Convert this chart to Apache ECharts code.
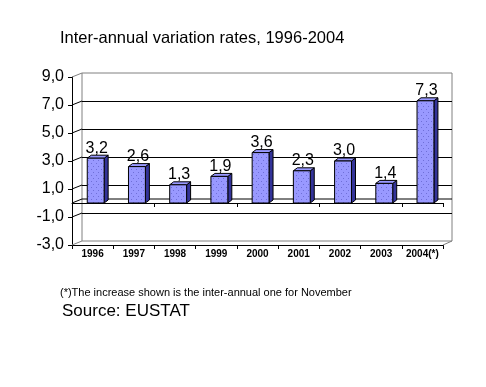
<!DOCTYPE html>
<html>
<head>
<meta charset="utf-8">
<script src="https://cdn.jsdelivr.net/npm/echarts@6/dist/echarts.min.js"></script>
<style>
html,body{margin:0;padding:0;background:#fff;}
#c{width:486px;height:387px;}
</style>
</head>
<body>
<div id="c"></div>
<script>
var categories = ['1996','1997','1998','1999','2000','2001','2002','2003','2004(*)'];
var values = [3.2, 2.6, 1.3, 1.9, 3.6, 2.3, 3.0, 1.4, 7.3];
var yTicks = [-3, -1, 1, 3, 5, 7, 9];
var titleText = 'Inter-annual variation rates, 1996-2004';
var noteText = '(*)The increase shown is the inter-annual one for November';
var sourceText = 'Source: EUSTAT';

var FONT = "'Liberation Sans', Arial, sans-serif";
function fmt(v){ return v.toFixed(1).replace('.', ','); }

// dotted fill pattern for bar fronts
var pc = document.createElement('canvas');
pc.width = 5; pc.height = 6;
var pctx = pc.getContext('2d');
pctx.fillStyle = '#9999FF'; pctx.fillRect(0,0,5,6);
pctx.fillStyle = '#6F6FD8';
pctx.fillRect(1,1,1,1); pctx.fillRect(3,4,1,1);

var DX = 4, DY = 3;

var chart = echarts.init(document.getElementById('c'), null, {renderer:'canvas'});
chart.setOption({
  animation: false,
  backgroundColor: '#ffffff',
  graphic: [
    {type:'text', left: 60, top: 30, style:{text: titleText, font: '16.5px ' + FONT, fill:'#000'}},
    {type:'text', left: 60, top: 287, style:{text: noteText, font: '11px ' + FONT, fill:'#000'}},
    {type:'text', left: 62, top: 303, style:{text: sourceText, font: '17px ' + FONT, fill:'#000'}}
  ],
  grid: [
    {left: 72, top: 77, width: 371, height: 168, show: false},
    {left: 82, top: 73, width: 370, height: 168, show: true, borderColor: '#808080', borderWidth: 1, backgroundColor: 'transparent', z: 0}
  ],
  xAxis: [
    {type:'category', gridIndex:0, data: categories, position:'bottom',
     axisLine:{show:true, onZero:false, lineStyle:{color:'#000', width:1}},
     axisTick:{show:true, length:4, lineStyle:{color:'#000'}},
     axisLabel:{show:true, margin:4, color:'#000', fontFamily: FONT, fontSize:10, fontWeight:'bold', interval:0},
     splitLine:{show:false}},
    {type:'category', gridIndex:0, data: categories, position:'bottom',
     axisLine:{show:true, onZero:true, lineStyle:{color:'#000', width:1}},
     axisTick:{show:true, length:4, lineStyle:{color:'#000'}},
     axisLabel:{show:false}, splitLine:{show:false}},
    {type:'category', gridIndex:1, data: categories, show:false}
  ],
  yAxis: [
    {type:'value', gridIndex:0, min:-3, max:9, interval:2,
     axisLine:{show:true, lineStyle:{color:'#000', width:1}},
     axisTick:{show:true, length:4, lineStyle:{color:'#000'}},
     axisLabel:{show:true, margin:8, color:'#000', fontFamily: FONT, fontSize:16, formatter: function(v){return fmt(v);}},
     splitLine:{show:false}},
    {type:'value', gridIndex:1, min:-3, max:9, interval:2,
     axisLine:{show:false}, axisTick:{show:false}, axisLabel:{show:false},
     splitLine:{show:true, showMinLine:false, showMaxLine:false, lineStyle:{color:'#000', width:1}}}
  ],
  series: [
    {
      type:'custom', xAxisIndex:0, yAxisIndex:0, z: 1,
      data: yTicks.map(function(v){ return [0, v]; }),
      renderItem: function(params, api){
        var v = api.value(1);
        var p = api.coord([0, v]);
        var x0 = params.coordSys.x;
        var edge = (v === yTicks[0] || v === yTicks[yTicks.length-1]);
        var children = [{type:'line', shape:{x1:x0, y1:p[1], x2:x0+10, y2:p[1]-4},
          style:{stroke: edge ? '#808080' : '#000', lineWidth:1}}];
        if (v === yTicks[0]) {
          var xr = params.coordSys.x + params.coordSys.width;
          children.push({type:'line', shape:{x1:xr, y1:p[1], x2:xr+9, y2:p[1]-4}, style:{stroke:'#808080', lineWidth:1}});
        }
        return {type:'group', children: children};
      }
    },
    {
      type:'custom', xAxisIndex:0, yAxisIndex:0, z: 1,
      data: [[0, 0]],
      renderItem: function(params, api){
        var p = api.coord([0, 0]);
        var x0 = params.coordSys.x, w = params.coordSys.width;
        return {type:'group', children:[
          {type:'line', shape:{x1:x0+10, y1:p[1]-4, x2:x0+w+9, y2:p[1]-4}, style:{stroke:'#000', lineWidth:1}},
          {type:'line', shape:{x1:x0, y1:p[1], x2:x0+10, y2:p[1]-4}, style:{stroke:'#000', lineWidth:1}}
        ]};
      }
    },
    {
      type:'custom', xAxisIndex:0, yAxisIndex:0, z: 5,
      data: values.map(function(v, i){ return [i, v]; }),
      renderItem: function(params, api){
        var i = api.value(0), v = api.value(1);
        var base = api.coord([i, 0]);
        var top = api.coord([i, v]);
        var bw = api.size([1, 0])[0];
        var L = base[0] - 0.13*bw;
        var W = 0.41*bw;
        var R = L + W;
        var yt = top[1], yb = base[1];
        return {type:'group', children:[
          {type:'polygon', shape:{points:[[R,yt],[R+DX,yt-DY],[R+DX,yb-DY],[R,yb]]},
           style:{fill:'#333399', stroke:'#000', lineWidth:1}},
          {type:'polygon', shape:{points:[[L,yt],[L+DX,yt-DY],[R+DX,yt-DY],[R,yt]]},
           style:{fill:'#9999FF', stroke:'#000', lineWidth:1}},
          {type:'rect', shape:{x:L, y:yt, width:W, height:yb-yt},
           style:{fill:{image: pc, repeat:'repeat'}, stroke:'#000', lineWidth:1}},
          {type:'text', x: L + W/2 + 1, y: yt - 10,
           style:{text: fmt(v), font:'16px ' + FONT, fill:'#000', align:'center', verticalAlign:'middle'}}
        ]};
      }
    }
  ]
});
</script>
</body>
</html>
